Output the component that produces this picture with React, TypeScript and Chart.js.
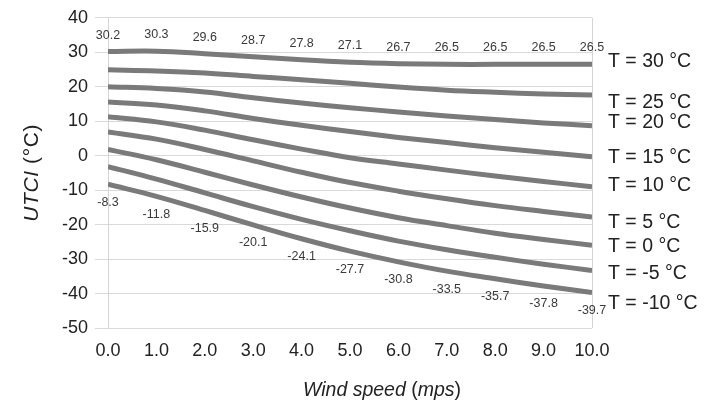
import React, { useEffect, useRef } from 'react';
import { Chart, registerables } from 'chart.js';

Chart.register(...registerables);

const windSpeed = [0, 1, 2, 3, 4, 5, 6, 7, 8, 9, 10];
const airTempLabels = ['T = 30 °C', 'T = 25 °C', 'T = 20 °C', 'T = 15 °C', 'T = 10 °C', 'T = 5 °C', 'T = 0 °C', 'T = -5 °C', 'T = -10 °C'];
const utci30 = [30.2, 30.3, 29.6, 28.7, 27.8, 27.1, 26.7, 26.5, 26.5, 26.5, 26.5];
const utci25 = [24.9, 24.6, 24.0, 23.0, 22.0, 21.0, 19.9, 19.0, 18.4, 17.9, 17.6];
const utci20 = [20.0, 19.5, 18.5, 16.8, 15.3, 13.9, 12.7, 11.5, 10.5, 9.5, 8.7];
const utci15 = [15.6, 14.7, 13.0, 10.8, 8.8, 7.0, 5.3, 3.8, 2.3, 1.0, -0.3];
const utci10 = [11.3, 9.8, 7.4, 4.6, 1.9, -0.6, -2.4, -4.2, -5.9, -7.5, -9.0];
const utci5 = [6.9, 4.8, 1.8, -1.5, -4.8, -7.8, -10.3, -12.5, -14.5, -16.2, -17.8];
const utci0 = [1.8, -1.2, -4.8, -8.5, -12.0, -15.2, -18.0, -20.3, -22.5, -24.3, -26.0];
const utciM5 = [-3.2, -6.8, -10.8, -14.8, -18.5, -21.8, -24.8, -27.3, -29.5, -31.5, -33.3];
const utciM10 = [-8.3, -11.8, -15.9, -20.1, -24.1, -27.7, -30.8, -33.5, -35.7, -37.8, -39.7];
// value (in UTCI units) at which each series name is written on the right
const seriesLabelAnchor = [27.4, 15.3, 9.5, -0.6, -8.6, -19.3, -26.5, -34.3, -42.9];
const allSeries = [utci30, utci25, utci20, utci15, utci10, utci5, utci0, utciM5, utciM10];
const yMin = -50;
const yMax = 40;
const yStep = 10;
const xMin = 0;
const xMax = 10;

const FONT = '"Liberation Sans", Arial, sans-serif';

function drawMixed(ctx: CanvasRenderingContext2D, parts: { t: string; italic: boolean }[], size: number, spacing = 0) {
  (ctx as any).letterSpacing = `${spacing}px`;
  let total = 0;
  const widths = parts.map((p) => {
    ctx.font = `${p.italic ? 'italic ' : ''}${size}px ${FONT}`;
    const w = ctx.measureText(p.t).width;
    total += w;
    return w;
  });
  let x = -total / 2;
  parts.forEach((p, i) => {
    ctx.font = `${p.italic ? 'italic ' : ''}${size}px ${FONT}`;
    ctx.fillText(p.t, x, 0);
    x += widths[i];
  });
  (ctx as any).letterSpacing = '0px';
}

const extrasPlugin = {
  id: 'extras',
  afterDatasetsDraw(chart: any) {
    const ctx = chart.ctx as CanvasRenderingContext2D;
    const area = chart.chartArea;
    const yScale = chart.scales.y;
    ctx.save();
    // right border
    ctx.strokeStyle = '#d4d4d4';
    ctx.lineWidth = 1;
    ctx.beginPath();
    ctx.moveTo(Math.round(area.right) + 0.5, area.top);
    ctx.lineTo(Math.round(area.right) + 0.5, area.bottom);
    ctx.stroke();

    // data labels
    ctx.fillStyle = '#3a3a3a';
    ctx.font = `12.5px ${FONT}`;
    ctx.textAlign = 'center';
    ctx.textBaseline = 'middle';
    const top = chart.getDatasetMeta(0);
    top.data.forEach((pt: any, i: number) => {
      ctx.fillText(utci30[i].toFixed(1), pt.x, pt.y - 16.5);
    });
    const bot = chart.getDatasetMeta(allSeries.length - 1);
    bot.data.forEach((pt: any, i: number) => {
      ctx.fillText(utciM10[i].toFixed(1), pt.x, pt.y + 18);
    });

    // series names
    ctx.fillStyle = '#222';
    ctx.font = `19.5px ${FONT}`;
    ctx.textAlign = 'left';
    airTempLabels.forEach((lab, i) => {
      ctx.fillText(lab, area.right + 16, yScale.getPixelForValue(seriesLabelAnchor[i]));
    });

    // axis titles
    ctx.fillStyle = '#222';
    ctx.textAlign = 'left';
    ctx.textBaseline = 'alphabetic';
    ctx.save();
    ctx.translate(area.left + (area.right - area.left) / 2 + 32, 396);
    drawMixed(ctx, [
      { t: 'Wind speed', italic: true },
      { t: ' (', italic: false },
      { t: 'mps', italic: true },
      { t: ')', italic: false },
    ], 19.5);
    ctx.restore();
    ctx.save();
    ctx.translate(38, (area.top + area.bottom) / 2);
    ctx.rotate(-Math.PI / 2);
    drawMixed(ctx, [
      { t: 'UTCI', italic: true },
      { t: ' (°C)', italic: false },
    ], 21, 0.6);
    ctx.restore();
    ctx.restore();
  },
};

export default function App() {
  const ref = useRef<HTMLCanvasElement>(null);
  useEffect(() => {
    if (!ref.current) return;
    const chart = new Chart(ref.current, {
      type: 'line',
      data: {
        datasets: allSeries.map((s, i) => ({
          label: airTempLabels[i],
          data: s.map((v, k) => ({ x: windSpeed[k], y: v })),
          borderColor: 'rgb(122,122,122)',
          borderWidth: 5,
          pointRadius: 0,
          tension: 0.4,
          fill: false,
        })),
      },
      options: {
        responsive: false,
        animation: false,
        layout: { padding: { left: 0, right: 113, top: 15, bottom: 0 } },
        plugins: { legend: { display: false }, tooltip: { enabled: false }, title: { display: false } },
        scales: {
          x: {
            type: 'linear',
            min: xMin,
            max: xMax,
            ticks: {
              stepSize: 1,
              color: '#222',
              font: { size: 18, family: FONT },
              padding: 12,
              callback: (v: any) => Number(v).toFixed(1),
            },
            grid: { display: false, drawTicks: false },
            border: { display: false },
            afterFit: (s: any) => { s.height = 78; },
          },
          y: {
            min: yMin,
            max: yMax,
            ticks: {
              stepSize: yStep,
              color: '#222',
              font: { size: 18, family: FONT },
              padding: 7,
            },
            grid: { color: '#d9d9d9', lineWidth: 1, tickLength: 13 },
            border: { display: true, color: '#d4d4d4' },
            afterFit: (s: any) => { s.width = 108; },
          },
        },
      },
      plugins: [extrasPlugin],
    });
    return () => chart.destroy();
  }, []);
  return (
    <div style={{ position: 'absolute', left: 0, top: 0, width: 705, height: 406, background: '#fff' }}>
      <canvas ref={ref} width={705} height={406} />
    </div>
  );
}
